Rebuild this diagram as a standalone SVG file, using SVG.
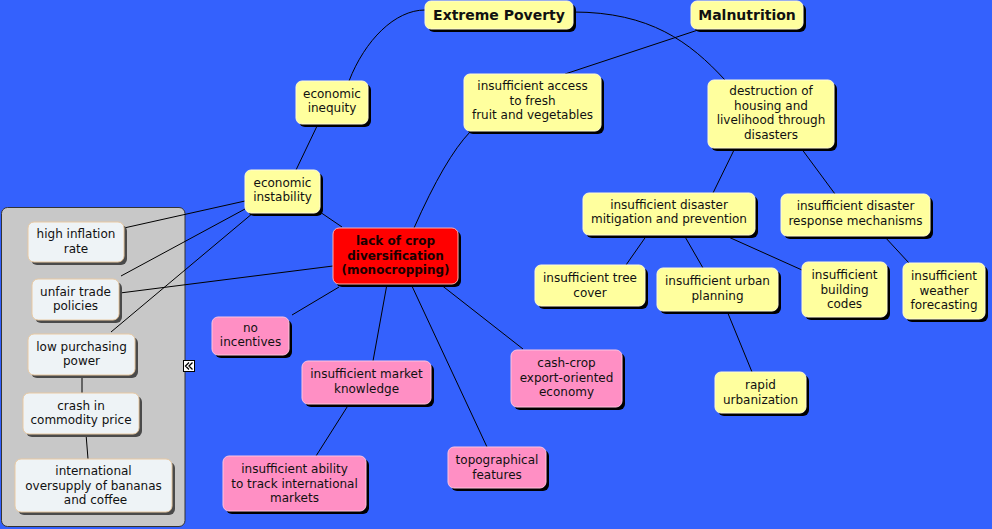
<svg xmlns="http://www.w3.org/2000/svg" width="992" height="529" viewBox="0 0 992 529">
<style>
text{font-family:"DejaVu Sans",Verdana,sans-serif;font-size:12px;fill:#111;text-anchor:middle}
.b{font-weight:bold}
.t{font-size:14px}
.sh{fill:#000}
.shl{fill:#4a4a4a}
.y{fill:#ffff9e;stroke:#fffbd6;stroke-width:1}
.p{fill:#ff8fc4;stroke:#ffc4df;stroke-width:1}
.r{fill:#ff0000;stroke:#ffb0b0;stroke-width:1}
.l{fill:#eef3f6;stroke:#e9c9a2;stroke-width:1}
.c{fill:none;stroke:#000;stroke-width:1}
</style>
<rect width="992" height="529" fill="#3461fd"/>
<g id="panel">
<rect x="1.5" y="207.5" width="183.5" height="319" rx="6" fill="#c8c8c8" stroke="#333" stroke-width="1"/>
</g>
<g id="connectors">
<path class="c" d="M425,10 C395,10 365,40 349,81"/>
<path class="c" d="M573,12 C650,12 690,42 725,80"/>
<path class="c" d="M698,30 L565,74"/>
<path class="c" d="M470,132 Q445,158 414,228"/>
<path class="c" d="M318,124 L296,170"/>
<path class="c" d="M320,212 L342,227"/>
<path class="c" d="M245,201 L124,228"/>
<path class="c" d="M245,209 L121,276"/>
<path class="c" d="M253,213 L111,332"/>
<path class="c" d="M333,266 L120,293"/>
<path class="c" d="M82,375 L82,393"/>
<path class="c" d="M86,434 L88,459"/>
<path class="c" d="M339,287 L292,315"/>
<path class="c" d="M387,284 L373,361"/>
<path class="c" d="M411,284 L487,447"/>
<path class="c" d="M440,284 L523,349"/>
<path class="c" d="M349,404 L316,456"/>
<path class="c" d="M735,148 L713,193"/>
<path class="c" d="M801,148 L835,194"/>
<path class="c" d="M647,235 L626,265"/>
<path class="c" d="M684,235 L703,268"/>
<path class="c" d="M724,235 L802,270"/>
<path class="c" d="M884,236 L909,263"/>
<path class="c" d="M727,311 L752,372"/>
</g>
<g id="n-extreme-poverty">
<rect class="sh" x="428" y="4" width="148" height="28" rx="6"/>
<rect class="y" x="425" y="1" width="148" height="28" rx="6"/>
<text class="b t" x="499" y="20">Extreme Poverty</text>
</g>
<g id="n-malnutrition">
<rect class="sh" x="694" y="4" width="112" height="28" rx="6"/>
<rect class="y" x="691" y="1" width="112" height="28" rx="6"/>
<text class="b t" x="747" y="20">Malnutrition</text>
</g>
<g id="n-economic-inequity">
<rect class="sh" x="299" y="84" width="72" height="43" rx="6"/>
<rect class="y" x="296" y="81" width="72" height="43" rx="6"/>
<text x="332" y="97.5">economic</text>
<text x="332" y="112">inequity</text>
</g>
<g id="n-access">
<rect class="sh" x="467" y="77" width="137" height="57" rx="6"/>
<rect class="y" x="464" y="74" width="137" height="57" rx="6"/>
<text x="532.5" y="90">insufficient access</text>
<text x="532.5" y="104.5">to fresh</text>
<text x="532.5" y="119">fruit and vegetables</text>
</g>
<g id="n-destruction">
<rect class="sh" x="711" y="83" width="126" height="68" rx="6"/>
<rect class="y" x="708" y="80" width="126" height="68" rx="6"/>
<text x="771" y="95">destruction of</text>
<text x="771" y="109.5">housing and</text>
<text x="771" y="124">livelihood through</text>
<text x="771" y="138.5">disasters</text>
</g>
<g id="n-economic-instability">
<rect class="sh" x="248" y="173" width="75" height="43" rx="6"/>
<rect class="y" x="245" y="170" width="75" height="43" rx="6"/>
<text x="282.5" y="186.5">economic</text>
<text x="282.5" y="201">instability</text>
</g>
<g id="n-mitigation">
<rect class="sh" x="586" y="196" width="172" height="42" rx="6"/>
<rect class="y" x="583" y="193" width="172" height="42" rx="6"/>
<text x="669" y="208.5">insufficient disaster</text>
<text x="669" y="223">mitigation and prevention</text>
</g>
<g id="n-response">
<rect class="sh" x="784" y="197" width="149" height="42" rx="6"/>
<rect class="y" x="781" y="194" width="149" height="42" rx="6"/>
<text x="855.5" y="210">insufficient disaster</text>
<text x="855.5" y="224.5">response mechanisms</text>
</g>
<g id="n-tree-cover">
<rect class="sh" x="538" y="268" width="110" height="41" rx="6"/>
<rect class="y" x="535" y="265" width="110" height="41" rx="6"/>
<text x="590" y="282">insufficient tree</text>
<text x="590" y="296.5">cover</text>
</g>
<g id="n-urban-planning">
<rect class="sh" x="660" y="271" width="121" height="43" rx="6"/>
<rect class="y" x="657" y="268" width="121" height="43" rx="6"/>
<text x="717.5" y="285">insufficient urban</text>
<text x="717.5" y="299.5">planning</text>
</g>
<g id="n-building-codes">
<rect class="sh" x="805" y="265" width="85" height="55" rx="6"/>
<rect class="y" x="802" y="262" width="85" height="55" rx="6"/>
<text x="844.5" y="279">insufficient</text>
<text x="844.5" y="293.5">building</text>
<text x="844.5" y="308">codes</text>
</g>
<g id="n-weather">
<rect class="sh" x="906" y="266" width="82" height="56" rx="6"/>
<rect class="y" x="903" y="263" width="82" height="56" rx="6"/>
<text x="944" y="280">insufficient</text>
<text x="944" y="294.5">weather</text>
<text x="944" y="309">forecasting</text>
</g>
<g id="n-rapid-urbanization">
<rect class="sh" x="718" y="375" width="91" height="41" rx="6"/>
<rect class="y" x="715" y="372" width="91" height="41" rx="6"/>
<text x="760.5" y="389">rapid</text>
<text x="760.5" y="403.5">urbanization</text>
</g>
<g id="n-lack-of-crop">
<rect class="sh" x="336" y="231" width="125" height="56" rx="6"/>
<rect class="r" x="333" y="228" width="125" height="56" rx="6"/>
<text class="b" x="395.5" y="245" style="fill:#1a0000">lack of crop</text>
<text class="b" x="395.5" y="259.5" style="fill:#1a0000">diversification</text>
<text class="b" x="395.5" y="274" style="fill:#1a0000">(monocropping)</text>
</g>
<g id="n-no-incentives">
<rect class="sh" x="215" y="320" width="77" height="38" rx="6"/>
<rect class="p" x="212" y="317" width="77" height="38" rx="6"/>
<text x="250.5" y="331.5">no</text>
<text x="250.5" y="346">incentives</text>
</g>
<g id="n-market-knowledge">
<rect class="sh" x="305" y="364" width="129" height="43" rx="6"/>
<rect class="p" x="302" y="361" width="129" height="43" rx="6"/>
<text x="366.5" y="378">insufficient market</text>
<text x="366.5" y="392.5">knowledge</text>
</g>
<g id="n-cash-crop">
<rect class="sh" x="514" y="353" width="111" height="57" rx="6"/>
<rect class="p" x="511" y="350" width="111" height="57" rx="6"/>
<text x="566.5" y="367">cash-crop</text>
<text x="566.5" y="381.5">export-oriented</text>
<text x="566.5" y="396">economy</text>
</g>
<g id="n-ability">
<rect class="sh" x="226" y="459" width="143" height="55" rx="6"/>
<rect class="p" x="223" y="456" width="143" height="55" rx="6"/>
<text x="294.5" y="473">insufficient ability</text>
<text x="294.5" y="487.5">to track international</text>
<text x="294.5" y="502">markets</text>
</g>
<g id="n-topographical">
<rect class="sh" x="451" y="450" width="98" height="41" rx="6"/>
<rect class="p" x="448" y="447" width="98" height="41" rx="6"/>
<text x="497" y="464">topographical</text>
<text x="497" y="478.5">features</text>
</g>
<g id="n-high-inflation">
<rect class="shl" x="31" y="225" width="96" height="40" rx="6"/>
<rect class="l" x="28" y="222" width="96" height="40" rx="6"/>
<text x="76" y="238">high inflation</text>
<text x="76" y="252.5">rate</text>
</g>
<g id="n-unfair-trade">
<rect class="shl" x="35" y="282" width="87" height="41" rx="6"/>
<rect class="l" x="32" y="279" width="87" height="41" rx="6"/>
<text x="75.5" y="295.5">unfair trade</text>
<text x="75.5" y="310">policies</text>
</g>
<g id="n-low-purchasing">
<rect class="shl" x="31" y="337" width="107" height="41" rx="6"/>
<rect class="l" x="28" y="334" width="107" height="41" rx="6"/>
<text x="81.5" y="350.5">low purchasing</text>
<text x="81.5" y="365">power</text>
</g>
<g id="n-crash">
<rect class="shl" x="26" y="396" width="116" height="41" rx="6"/>
<rect class="l" x="23" y="393" width="116" height="41" rx="6"/>
<text x="81" y="409.5">crash in</text>
<text x="81" y="424">commodity price</text>
</g>
<g id="n-oversupply">
<rect class="shl" x="18" y="462" width="157" height="53" rx="6"/>
<rect class="l" x="15" y="459" width="157" height="53" rx="6"/>
<text x="93.5" y="475">international</text>
<text x="93.5" y="489.5">oversupply of bananas</text>
<text x="95.5" y="504">and coffee</text>
</g>
<g id="collapse-icon">
<rect x="183.5" y="360.5" width="11" height="11" fill="#fff" stroke="#000" stroke-width="1"/>
<path d="M189,362.5 L185.5,366 L189,369.5 M192.5,362.5 L189,366 L192.5,369.5" fill="none" stroke="#000" stroke-width="1.3"/>
</g>
</svg>
